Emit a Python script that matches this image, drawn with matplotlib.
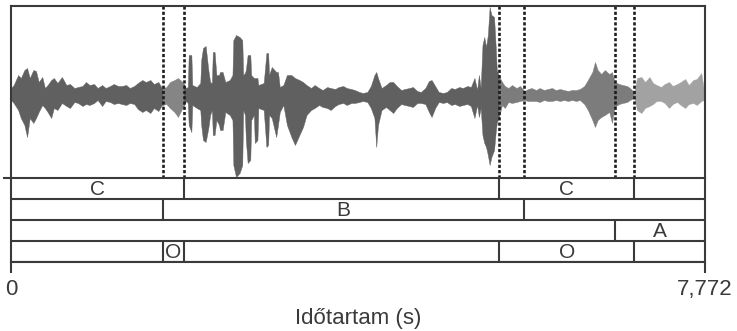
import numpy as np
import matplotlib
matplotlib.use("Agg")
import matplotlib.pyplot as plt
from matplotlib.patches import Rectangle

plt.rcParams['font.family'] = ['Liberation Sans', 'DejaVu Sans']

# waveform envelope (time in s, amplitude in arbitrary units)
wave_t = [0.00, 0.03, 0.08, 0.11, 0.15, 0.18, 0.21, 0.25, 0.28, 0.31, 0.35, 0.38, 0.41, 0.45,
          0.48, 0.52, 0.57, 0.62, 0.66, 0.71, 0.75, 0.80, 0.84, 0.88, 0.93, 0.97, 1.02, 1.06,
          1.11, 1.15, 1.20, 1.24, 1.29, 1.33, 1.38, 1.42, 1.47, 1.51, 1.56, 1.60, 1.65, 1.69,
          1.74, 1.78, 1.83, 1.87, 1.92,
          1.96, 1.98, 1.99, 2.02, 2.03, 2.08, 2.12, 2.13, 2.15, 2.18, 2.21, 2.23, 2.25, 2.26,
          2.28, 2.30, 2.33, 2.34, 2.37, 2.40, 2.45, 2.48, 2.49, 2.52, 2.56, 2.59, 2.60, 2.62,
          2.63, 2.65, 2.68, 2.69, 2.72, 2.73, 2.76, 2.77, 2.83, 2.86, 2.88, 2.89, 2.92, 2.97,
          2.99, 3.01, 3.05, 3.09, 3.14, 3.18, 3.23,
          3.27, 3.31, 3.36, 3.40,
          3.45, 3.49, 3.54, 3.58, 3.63, 3.67, 3.72, 3.76, 3.81, 3.85, 3.90, 3.94, 3.99, 4.03,
          4.07, 4.09, 4.11, 4.15, 4.20, 4.24, 4.28, 4.32, 4.37, 4.41, 4.46, 4.50, 4.55, 4.59,
          4.64, 4.68, 4.71, 4.75, 4.79, 4.84, 4.88, 4.93, 4.97, 5.02, 5.06, 5.11, 5.15, 5.19,
          5.22, 5.24, 5.26, 5.28, 5.30, 5.32, 5.34, 5.36, 5.38, 5.41, 5.43, 5.44, 5.47,
          5.50, 5.53, 5.57, 5.61, 5.66,
          5.70, 5.75, 5.79, 5.83, 5.88, 5.92, 5.97, 6.01, 6.06, 6.10, 6.15, 6.19, 6.24, 6.28,
          6.33, 6.37, 6.42, 6.46, 6.51, 6.54, 6.57, 6.61, 6.65, 6.70, 6.73, 6.76, 6.81, 6.85,
          6.90, 6.93, 6.98, 7.01, 7.06, 7.10, 7.15, 7.19, 7.23, 7.28, 7.32, 7.37, 7.41, 7.46,
          7.50, 7.55, 7.59, 7.64, 7.68, 7.73, 7.76]
wave_hi = [7, 10, 20, 17, 25, 27, 17, 25, 24, 13, 18, 7, 10, 15,
           17, 12, 18, 10, 11, 7, 8, 9, 13, 10, 11, 7, 10, 7,
           9, 11, 9, 9, 10, 7, 9, 12, 15, 13, 15, 11, 13, 7,
           8, 13, 15, 17, 13,
           7, 8, 40, 40, 10, 8, 12, 35, 47, 49, 25, 13, 12, 43,
           43, 20, 20, 23, 23, 13, 15, 20, 55, 60, 58, 55, 20, 22,
           25, 40, 40, 20, 17, 17, 17, 10, 12, 42, 42, 20, 28, 23,
           23, 8, 10, 20, 20, 17, 15,
           13, 10, 7, 10,
           7, 5, 8, 7, 6, 8, 9, 7, 6, 5, 3, 2, 3, 9,
           20, 23, 17, 7, 10, 13, 13, 9, 5, 6, 7, 8, 4, 3,
           7, 14, 15, 9, 3, 2, 3, 7, 6, 8, 7, 9, 8, 17,
           5, 20, 7, 50, 58, 48, 60, 88, 80, 78, 45, 25, 18,
           13, 9, 7, 10, 7,
           9, 4, 6, 7, 5, 7, 5, 6, 7, 5, 6, 5, 4, 5,
           5, 6, 9, 15, 23, 33, 25, 21, 25, 21, 23, 13, 11, 10,
           9, 7, 3, 17, 18, 13, 18, 12, 10, 8, 11, 13, 9, 11,
           13, 16, 10, 15, 16, 22, 5]
wave_lo = [-5, -8, -15, -23, -30, -42, -23, -28, -23, -17, -10, -13, -17, -23,
           -13, -15, -8, -11, -13, -7, -8, -11, -9, -10, -8, -5, -11, -6,
           -7, -9, -8, -9, -10, -8, -9, -14, -17, -15, -18, -13, -16, -10,
           -9, -13, -17, -22, -13,
           -6, -8, -30, -37, -10, -13, -15, -30, -45, -47, -33, -20, -15, -40,
           -40, -25, -30, -35, -35, -17, -20, -25, -70, -82, -78, -70, -15, -20,
           -45, -68, -65, -25, -20, -48, -45, -13, -15, -52, -50, -20, -23, -42,
           -30, -17, -10, -30, -42, -50, -40,
           -32, -20, -15, -13,
           -10, -12, -13, -15, -11, -9, -8, -10, -8, -8, -7, -6, -7, -13,
           -23, -52, -30, -15, -12, -15, -18, -13, -9, -10, -11, -12, -8, -8,
           -9, -17, -22, -13, -7, -8, -7, -10, -9, -11, -10, -9, -11, -23,
           -10, -22, -13, -40, -48, -52, -60, -70, -62, -55, -35, -28, -20,
           -10, -13, -7, -8, -7,
           -6, -5, -6, -6, -6, -7, -5, -6, -6, -5, -6, -5, -6, -5,
           -6, -5, -9, -15, -25, -32, -25, -22, -20, -17, -28, -12, -9, -8,
           -7, -5, -3, -15, -18, -13, -11, -9, -6, -6, -8, -13, -9, -7,
           -10, -13, -9, -8, -10, -6, -5]

total_dur = 7.772
# shading of the waveform between boundaries
shade_edges = [0.0, 1.70, 1.94, 5.47, 6.98, total_dur]
shade_colors = ['#606060', '#858585', '#606060', '#7c7c7c', '#a2a2a2']
# dotted segment boundaries
bounds = [1.70, 1.94, 5.47, 5.75, 6.76, 6.98]

# annotation tiers: (cuts, labels as (text, start, end))
tier_cuts = [[1.94, 5.47, 6.98],
             [1.70, 5.75],
             [6.76],
             [1.70, 1.94, 5.47, 6.98]]
tier_labels = [[('C', 0.0, 1.94), ('C', 5.47, 6.98)],
               [('B', 1.70, 5.75)],
               [('A', 6.76, total_dur)],
               [('O', 1.70, 1.94), ('O', 5.47, 6.98)]]

W, H = 737, 331
fig = plt.figure(figsize=(W / 100, H / 100), dpi=100)
lc = '#3a3a3a'
lw = 1.5

x0, x1 = 11, 705
ax_w = fig.add_axes([x0 / W, 1 - 178 / H, (x1 - x0) / W, (178 - 6) / H])
ax_t = fig.add_axes([x0 / W, 1 - 262 / H, (x1 - x0) / W, (262 - 178) / H])

t = np.array(wave_t)
hi = np.array(wave_hi)
lo = np.array(wave_lo)
for a, b, c in zip(shade_edges[:-1], shade_edges[1:], shade_colors):
    poly = ax_w.fill_between(t, lo, hi, color=c, lw=0.3, edgecolor=c)
    poly.set_clip_path(Rectangle((a, -200), b - a, 400, transform=ax_w.transData))

for b in bounds:
    ax_w.axvline(b, color='#1e1e1e', lw=1.9, ls=(0, (1.2, 0.8)))

ax_w.set_xlim(0, total_dur)
ax_w.set_ylim(-83, 89)
ax_w.set_xticks([])
ax_w.set_yticks([])
for s in ax_w.spines.values():
    s.set_color(lc)
    s.set_linewidth(lw)

# tiers
ax_t.set_xlim(0, total_dur)
ax_t.set_ylim(4, 0)
ax_t.hlines([0, 1, 2, 3, 4], 0, total_dur, color=lc, lw=lw)
ax_t.plot([-0.08, 0], [0, 0], color=lc, lw=lw, clip_on=False)
for row, cuts in enumerate(tier_cuts):
    ax_t.vlines(cuts, row, row + 1, color=lc, lw=lw)
for row, labs in enumerate(tier_labels):
    for txt, a, b in labs:
        ax_t.text((a + b) / 2, row + 0.55, txt, ha='center', va='center',
                  fontsize=15, color='#3a3a3a')

ax_t.spines['top'].set_visible(False)
for s in ['left', 'right', 'bottom']:
    ax_t.spines[s].set_color(lc)
    ax_t.spines[s].set_linewidth(lw)
ax_t.set_yticks([])
ax_t.set_xticks([0, total_dur])
ax_t.set_xticklabels(['0', '7,772'])
ax_t.tick_params(axis='x', length=8, width=lw, color=lc, labelsize=16, labelcolor='#3a3a3a', pad=4)
ax_t.set_xlabel('Időtartam (s)', fontsize=16, color='#3a3a3a', labelpad=6)

fig.savefig('out.png', dpi=100)
